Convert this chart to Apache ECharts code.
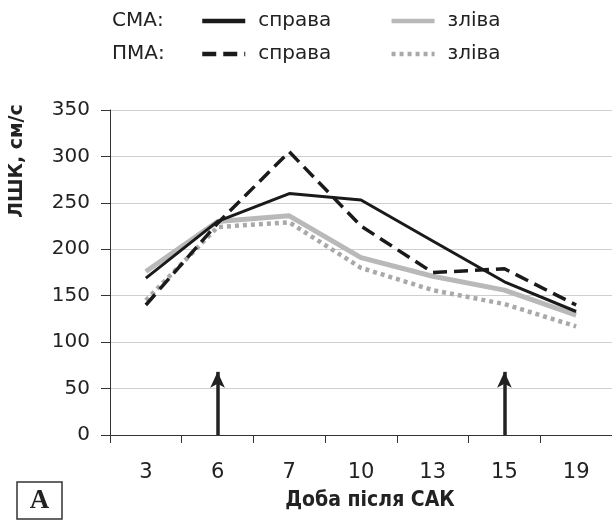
<!DOCTYPE html>
<html>
<head>
<meta charset="utf-8">
<script src="https://cdn.jsdelivr.net/npm/echarts@6/dist/echarts.min.js"></script>
<style>
  html, body { margin: 0; padding: 0; background: #fff; }
  #chart { width: 612px; height: 522px; }
</style>
</head>
<body>
<div id="chart"></div>
<script>
// Days after subarachnoid haemorrhage
const days = ['3', '6', '7', '10', '13', '15', '19'];
// Linear blood flow velocity, cm/s
const smaRight = [169, 230, 260, 253, 209, 165, 133];
const smaLeft  = [176, 230, 236, 191, 171, 156, 129];
const pmaRight = [140, 228, 305, 225, 175, 179, 140];
const pmaLeft  = [145, 224, 229, 180, 156, 141, 117];
// Days marked with an arrow, and the arrow height on the value axis
const arrowDays = ['6', '15'];
const arrowTop = 68;
const yTicks = { min: 0, max: 350, step: 50 };

const FONT = "'DejaVu Sans', sans-serif";
const TXT = '#222';

const chart = echarts.init(document.getElementById('chart'), null, { renderer: 'canvas' });

const arrowLines = arrowDays.map(d => [
  { coord: [d, 0] },
  { coord: [d, arrowTop] }
]);

const legendBase = {
  left: 195,
  itemWidth: 43, itemHeight: 20, itemGap: 58,
  formatter: n => n.split(' ')[1],
  itemStyle: { opacity: 0 },
  lineStyle: { width: 4.5 },
  textStyle: { color: TXT, fontFamily: FONT, fontSize: 20, width: 92, padding: [0, 0, 0, 8] },
  selectedMode: false
};

chart.setOption({
  animation: false,
  backgroundColor: '#fff',
  grid: { left: 110, top: 110, width: 506, height: 325, containLabel: false },
  xAxis: {
    type: 'category',
    data: days,
    boundaryGap: true,
    axisLine: { lineStyle: { color: '#333', width: 1 } },
    axisTick: { show: true, length: 8, lineStyle: { color: '#333' } },
    axisLabel: { color: TXT, fontFamily: FONT, fontSize: 21, margin: 27 },
    splitLine: { show: false }
  },
  yAxis: {
    type: 'value',
    min: yTicks.min, max: yTicks.max, interval: yTicks.step,
    axisLine: { show: true, lineStyle: { color: '#333', width: 1 } },
    axisTick: { show: true, length: 9, lineStyle: { color: '#333' } },
    axisLabel: { color: TXT, fontFamily: FONT, fontSize: 20, margin: 20 },
    splitLine: { show: true, lineStyle: { color: '#cfcfcf', width: 1 } }
  },
  legend: [
    Object.assign({}, legendBase, { data: ['СМА справа', 'СМА зліва'], top: 6 }),
    Object.assign({}, legendBase, { data: ['ПМА справа', 'ПМА зліва'], top: 39 })
  ],
  series: [
    {
      name: 'СМА зліва', type: 'line', data: smaLeft,
      symbol: 'none', color: '#b9b9b9',
      lineStyle: { color: '#b9b9b9', width: 5 }, z: 2
    },
    {
      name: 'ПМА зліва', type: 'line', data: pmaLeft,
      symbol: 'none', color: '#a9a9a9',
      lineStyle: { color: '#a9a9a9', width: 4.5, type: [4, 4], cap: 'butt' }, z: 3
    },
    {
      name: 'СМА справа', type: 'line', data: smaRight,
      symbol: 'none', color: '#1a1a1a',
      lineStyle: { color: '#1a1a1a', width: 3 }, z: 4
    },
    {
      name: 'ПМА справа', type: 'line', data: pmaRight,
      symbol: 'none', color: '#1a1a1a',
      lineStyle: { color: '#1a1a1a', width: 3.5, type: [14, 7], cap: 'butt' }, z: 5,
      markLine: {
        silent: true,
        symbol: ['none', 'arrow'],
        symbolSize: [11, 16],
        label: { show: false },
        lineStyle: { color: '#222', width: 3.5, type: 'solid' },
        emphasis: { disabled: true },
        data: arrowLines
      }
    }
  ],
  graphic: [
    { type: 'text', left: 112, top: 11, style: { text: 'СМА:', fill: TXT, font: `20px ${FONT}` } },
    { type: 'text', left: 112, top: 44, style: { text: 'ПМА:', fill: TXT, font: `20px ${FONT}` } },
    {
      type: 'text', x: 17, y: 161, rotation: Math.PI / 2,
      style: {
        text: 'ЛШК, см/с', fill: TXT, align: 'center', verticalAlign: 'middle',
        font: `bold 19px ${FONT}`
      }
    },
    {
      type: 'text', x: 370, y: 501,
      style: {
        text: 'Доба після САК', fill: TXT, align: 'center', verticalAlign: 'middle',
        font: "bold 21px 'DejaVu Sans Condensed', 'Liberation Sans Narrow', sans-serif"
      }
    },
    {
      type: 'rect', shape: { x: 17, y: 482, width: 45, height: 37 },
      style: { fill: '#fff', stroke: '#333', lineWidth: 1.5 }
    },
    {
      type: 'text', x: 39.5, y: 501,
      style: {
        text: 'A', fill: TXT, align: 'center', verticalAlign: 'middle',
        font: "bold 27px 'Liberation Serif', 'DejaVu Serif', serif"
      }
    }
  ]
});
</script>
</body>
</html>
